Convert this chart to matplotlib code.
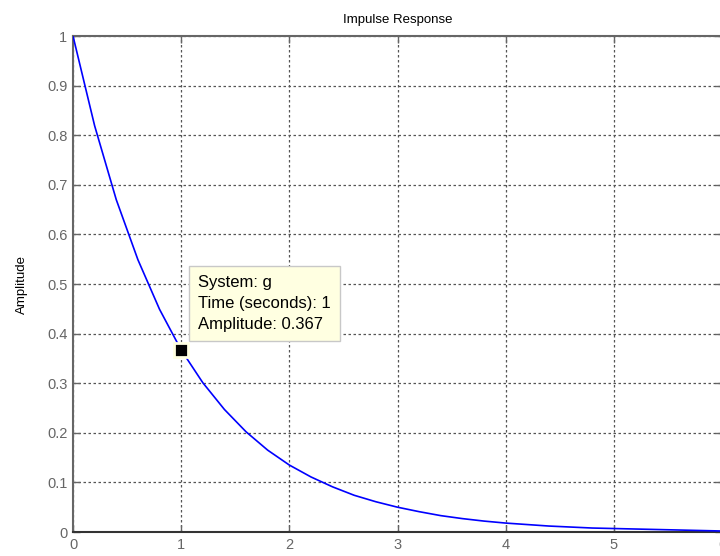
import matplotlib.pyplot as plt
import numpy as np

plt.rcParams['font.family'] = ['Liberation Sans', 'DejaVu Sans']

# impulse response samples of g
t = [0.0, 0.2, 0.4, 0.6, 0.8, 1.0, 1.2, 1.4, 1.6, 1.8, 2.0, 2.2, 2.4, 2.6, 2.8,
     3.0, 3.2, 3.4, 3.6, 3.8, 4.0, 4.2, 4.4, 4.6, 4.8, 5.0, 5.2, 5.4, 5.6, 5.8, 6.0]
amp = [1.000, 0.819, 0.670, 0.549, 0.449, 0.367, 0.301, 0.247, 0.202, 0.165,
       0.135, 0.111, 0.091, 0.074, 0.061, 0.050, 0.041, 0.033, 0.027, 0.022,
       0.018, 0.015, 0.012, 0.010, 0.008, 0.007, 0.006, 0.005, 0.004, 0.003, 0.002]

tip_t = 1.0
tip_amp = 0.367

xticks = [0, 1, 2, 3, 4, 5, 6]
yticks = [0, 0.1, 0.2, 0.3, 0.4, 0.5, 0.6, 0.7, 0.8, 0.9, 1]
yticklabels = ['0', '0.1', '0.2', '0.3', '0.4', '0.5', '0.6', '0.7', '0.8', '0.9', '1']

gray = '#666666'

fig = plt.figure(figsize=(7.2, 5.56), dpi=100)
ax = fig.add_axes([73 / 720, 24 / 556, 649 / 720, 496 / 556])

ax.plot(t, amp, color='#0000ff', lw=1.2, zorder=3)

ax.set_xlim(0, 6)
ax.set_ylim(0, 1)
ax.set_xticks(xticks)
ax.set_yticks(yticks)
ax.set_yticklabels(yticklabels)
ax.tick_params(direction='in', length=5, width=1, colors=gray, labelsize=10.5,
               top=True, right=True, pad=4)
for s in ax.spines.values():
    s.set_color(gray)
    s.set_linewidth(1.5)
ax.spines['bottom'].set_color('#333333')

ax.grid(True, color='#555555', linestyle=(0, (2, 2)), lw=0.9)
ax.set_axisbelow(True)

ax.set_title('Impulse Response', fontsize=9.5, color='black', pad=9)
ax.set_ylabel('Amplitude', fontsize=9.5, color='black', labelpad=14)

# data tip
ax.plot([tip_t], [tip_amp], marker='s', ms=9.5, mfc='black', mec='#ffffe1',
        mew=2, zorder=5, clip_on=False)
ax.annotate('System: g\nTime (seconds): %g\nAmplitude: %.3f' % (tip_t, tip_amp),
            xy=(tip_t, tip_amp), xytext=(17, 18), textcoords='offset pixels',
            ha='left', va='bottom', fontsize=12, linespacing=1.5, color='black',
            bbox=dict(boxstyle='square,pad=0.55', fc='#ffffe1', ec='#c8c8c8', lw=1),
            zorder=4)

fig.savefig('out.png', dpi=100)
